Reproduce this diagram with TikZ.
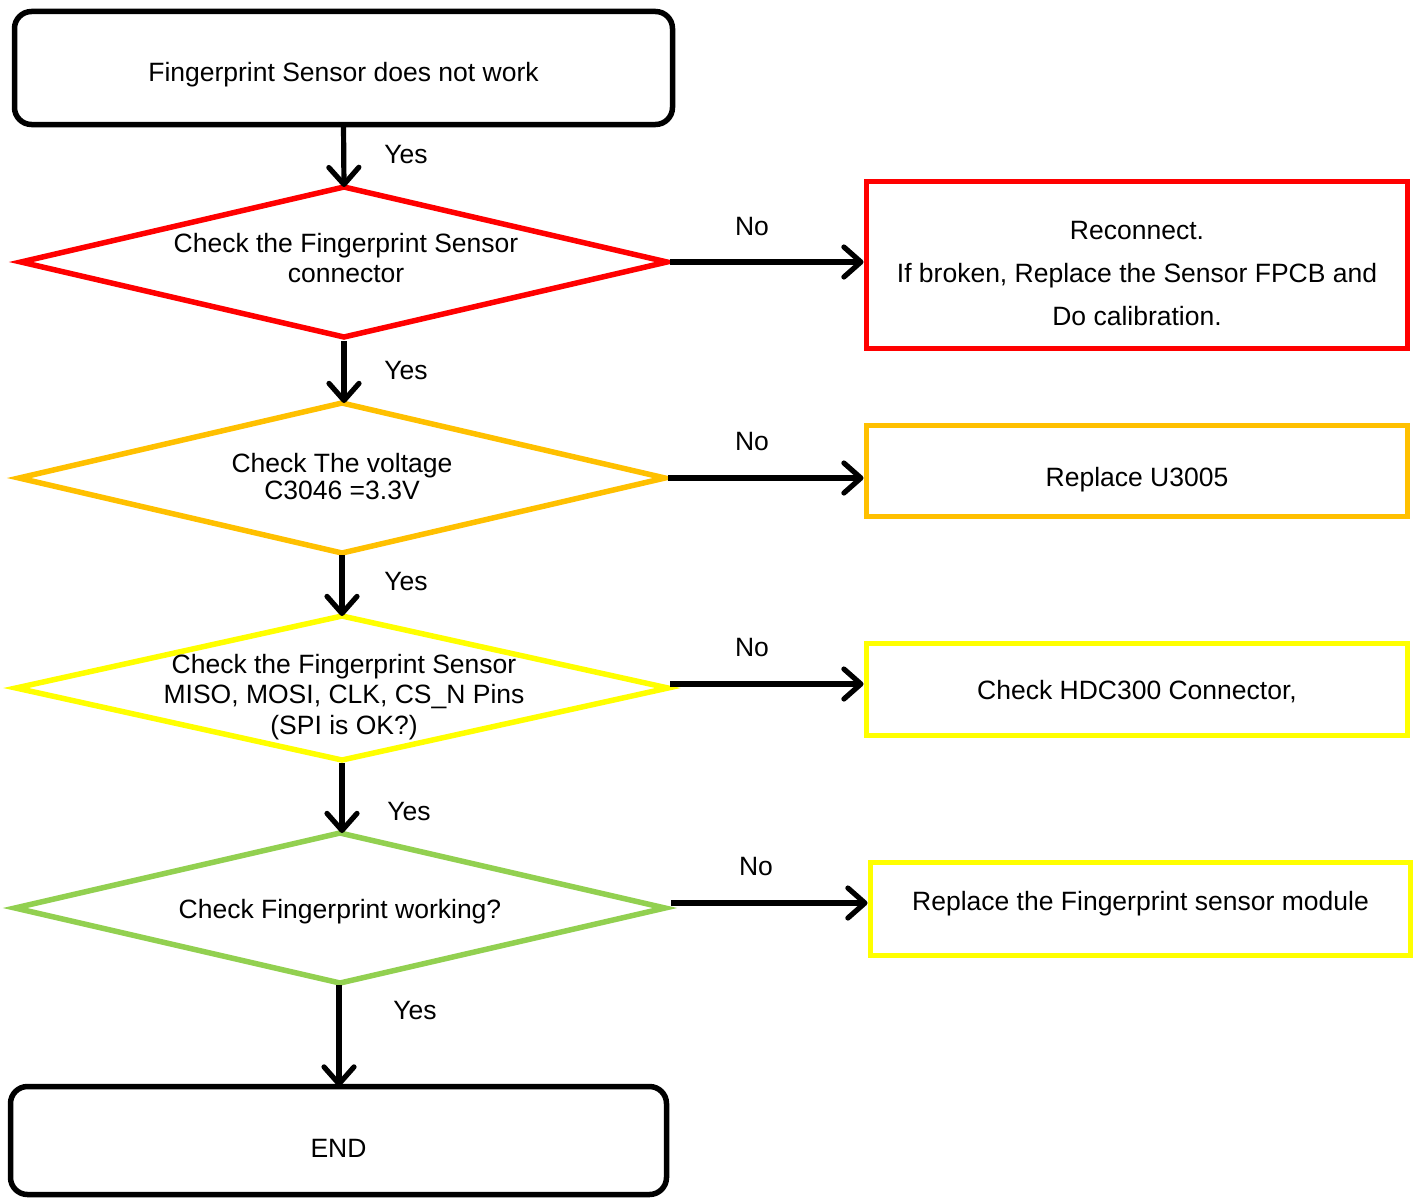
\documentclass[tikz,border=0pt]{standalone}
\usepackage{fontspec}
\setmainfont{Liberation Sans}
\usetikzlibrary{shapes.geometric,arrows.meta}
\definecolor{cred}{HTML}{FF0000}
\definecolor{corange}{HTML}{FFC000}
\definecolor{cyellow}{HTML}{FFFF00}
\definecolor{cgreen}{HTML}{92D050}
\begin{document}
\begin{tikzpicture}[x=1pt,y=-1pt,
  every node/.style={font=\fontsize{26.5}{30.5}\selectfont, inner sep=0pt, outer sep=0pt},
  term/.style={rectangle, draw=black, line width=5.5pt, rounded corners=17pt},
  actbox/.style={rectangle, line width=5pt},
  decis/.style={diamond, line width=5.5pt, inner sep=0pt},
  txt/.style={align=center},
  flow/.style={line width=5.2pt, -{Straight Barb[length=17pt,width=30pt,round]}},
  lbl/.style={}
]
\useasboundingbox (0,0) rectangle (1420,1199);

% terminals
\node[term, minimum width=658pt, minimum height=113pt] (start) at (343.5,68) {};
\node[txt] (startt) at (343.5,75) {Fingerprint Sensor does not work};

\node[term, minimum width=656pt, minimum height=108pt] (stop) at (338.5,1140.5) {};
\node[txt] (stopt) at (338.5,1148) {END};

% decisions
\node[decis, draw=cred, minimum width=646pt, minimum height=150pt] (d1) at (344,262) {};
\node[txt] (d1t) at (346,258) {Check the Fingerprint Sensor\\connector};

\node[decis, draw=corange, minimum width=646pt, minimum height=150pt] (d2) at (342,478) {};
\node[txt, font=\fontsize{26.5}{27}\selectfont] (d2t) at (342,477) {Check The voltage\\C3046 =3.3V};

\node[decis, draw=cyellow, minimum width=652pt, minimum height=144pt] (d3) at (342,688) {};
\node[txt] (d3t) at (344,697) {Check the Fingerprint Sensor\\MISO, MOSI, CLK, CS\_N Pins\\(SPI is OK?)};

\node[decis, draw=cgreen, minimum width=650pt, minimum height=150pt] (d4) at (340,908) {};
\node[txt] (d4t) at (340,912) {Check Fingerprint working?};

% action boxes
\node[actbox, draw=cred, minimum width=541pt, minimum height=167pt] (r1) at (1137,265) {};
\node[txt, font=\fontsize{26.5}{43}\selectfont] (r1t) at (1137,274) {Reconnect.\\If broken, Replace the Sensor FPCB and\\Do calibration.};

\node[actbox, draw=corange, minimum width=541pt, minimum height=91pt] (r2) at (1137,471) {};
\node[txt] (r2t) at (1137,480) {Replace U3005};

\node[actbox, draw=cyellow, minimum width=541pt, minimum height=92pt] (r3) at (1137,689.5) {};
\node[txt] (r3t) at (1137,692) {Check HDC300 Connector,};

\node[actbox, draw=cyellow, minimum width=540pt, minimum height=93pt] (r4) at (1140.5,909) {};
\node[txt] (r4t) at (1140.5,904) {Replace the Fingerprint sensor module};

% vertical connectors
\draw[flow] (start.south) -- (d1.north);
\draw[flow, shorten <=4pt] (d1.south) -- (d1.south |- d2.north);
\draw[flow, shorten <=2pt] (d2.south) -- (d2.south |- d3.north);
\draw[flow, shorten <=3pt] (d3.south) -- (d3.south |- d4.north);
\draw[flow, shorten <=2pt] ([xshift=-1pt]d4.south) -- ([xshift=-1pt]d4.south |- stop.north);

% horizontal connectors
\draw[flow, shorten <=3pt, shorten >=3pt] (d1.east) -- (d1.east -| r1.west);
\draw[flow, shorten <=3pt, shorten >=3pt] (d2.east) -- (d2.east -| r2.west);
\draw[flow, shorten <=2pt, shorten >=3pt] ([yshift=4pt]d3.east) -- ([yshift=4pt]d3.east -| r3.west);
\draw[flow, shorten <=6pt, shorten >=3pt] ([yshift=5pt]d4.east) -- ([yshift=5pt]d4.east -| r4.west);

% labels
\node[lbl] (y1) at (406,155) {Yes};
\node[lbl] (y2) at (406,371) {Yes};
\node[lbl] (y3) at (406,582) {Yes};
\node[lbl] (y4) at (409,812) {Yes};
\node[lbl] (y5) at (415,1010) {Yes};
\node[lbl] (n1) at (752,227) {No};
\node[lbl] (n2) at (752,442) {No};
\node[lbl] (n3) at (752,648) {No};
\node[lbl] (n4) at (756,867) {No};
\end{tikzpicture}
\end{document}
